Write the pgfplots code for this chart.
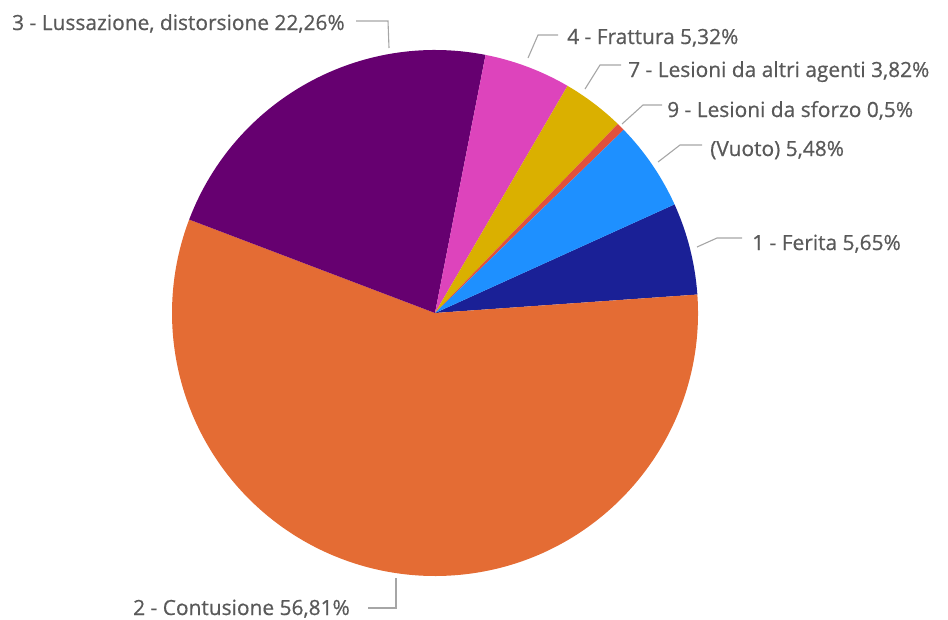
\documentclass[border=0pt]{standalone}
\usepackage{pgfplots}
\pgfplotsset{compat=1.18}
\usepackage{pgfplotstable}
\usepackage{fontspec}
\setmainfont{Open Sans}
\newfontfamily\labfont[FakeBold=0.6]{Open Sans}
\definecolor{pc0}{RGB}{26,32,150}
\definecolor{pc1}{RGB}{228,108,52}
\definecolor{pc2}{RGB}{102,0,112}
\definecolor{pc3}{RGB}{221,68,188}
\definecolor{pc4}{RGB}{218,176,0}
\definecolor{pc5}{RGB}{226,80,60}
\definecolor{pc6}{RGB}{30,144,255}
\definecolor{txt}{RGB}{89,89,89}
\definecolor{lead}{RGB}{166,166,166}
\begin{document}
\begin{tikzpicture}
\pgfplotstableread{
value
5.65
56.81
22.26
5.32
3.82
0.5
5.48
}\piedata
\gdef\total{0}
\pgfplotstableforeachcolumnelement{value}\of\piedata\as\v{%
  \pgfmathsetmacro\tmpsum{\total+\v}\xdef\total{\tmpsum}}
\gdef\cur{24.4}
\pgfplotstableforeachcolumnelement{value}\of\piedata\as\v{%
  \pgfmathsetmacro\tmpend{\cur-\v/\total*360}%
  \expandafter\xdef\csname sa\pgfplotstablerow\endcsname{\cur}%
  \expandafter\xdef\csname ea\pgfplotstablerow\endcsname{\tmpend}%
  \xdef\cur{\tmpend}}
\begin{axis}[at={(0,0)}, anchor=south west, width=948bp, height=620bp, scale only axis,
  xmin=0, xmax=948, ymin=0, ymax=620, y dir=reverse, hide axis, clip=false]
\pgfplotsinvokeforeach{0,...,6}{
  \fill[pc#1] (axis cs:435,313) -- ([shift={(\csname sa#1\endcsname:263bp)}]axis cs:435,313)
    arc[start angle=\csname sa#1\endcsname, end angle=\csname ea#1\endcsname, radius=263bp] -- cycle;
}
\begin{scope}[every node/.style={anchor=base west, inner sep=0pt, text=txt, font=\labfont\fontsize{21}{25}\selectfont}]
\node at (axis cs:12,30) {3 - Lussazione, distorsione 22,26\%};
\node at (axis cs:567,44) {4 - Frattura 5,32\%};
\node at (axis cs:628,77) {7 - Lesioni da altri agenti 3,82\%};
\node at (axis cs:667,117) {9 - Lesioni da sforzo 0,5\%};
\node at (axis cs:710,156) {(Vuoto) 5,48\%};
\node at (axis cs:752,250) {1 - Ferita 5,65\%};
\node at (axis cs:133,615) {2 - Contusione 56,81\%};
\end{scope}
\begin{scope}[lead, line width=1.1bp]
\draw (axis cs:356,21) -- (axis cs:388,21) -- (axis cs:389,48);
\draw (axis cs:528,58) -- (axis cs:538,35) -- (axis cs:558,35);
\draw (axis cs:585,89) -- (axis cs:600,65) -- (axis cs:621,65);
\draw (axis cs:622,124) -- (axis cs:643,105) -- (axis cs:662,105);
\draw (axis cs:658,162) -- (axis cs:680,145) -- (axis cs:702,145);
\draw (axis cs:697,247) -- (axis cs:717,238) -- (axis cs:742,238);
\draw (axis cs:396,578) -- (axis cs:396,608) -- (axis cs:368,608);
\end{scope}
\end{axis}
\pgfresetboundingbox
\useasboundingbox (0,0) rectangle (948bp,620bp);
\end{tikzpicture}
\end{document}
